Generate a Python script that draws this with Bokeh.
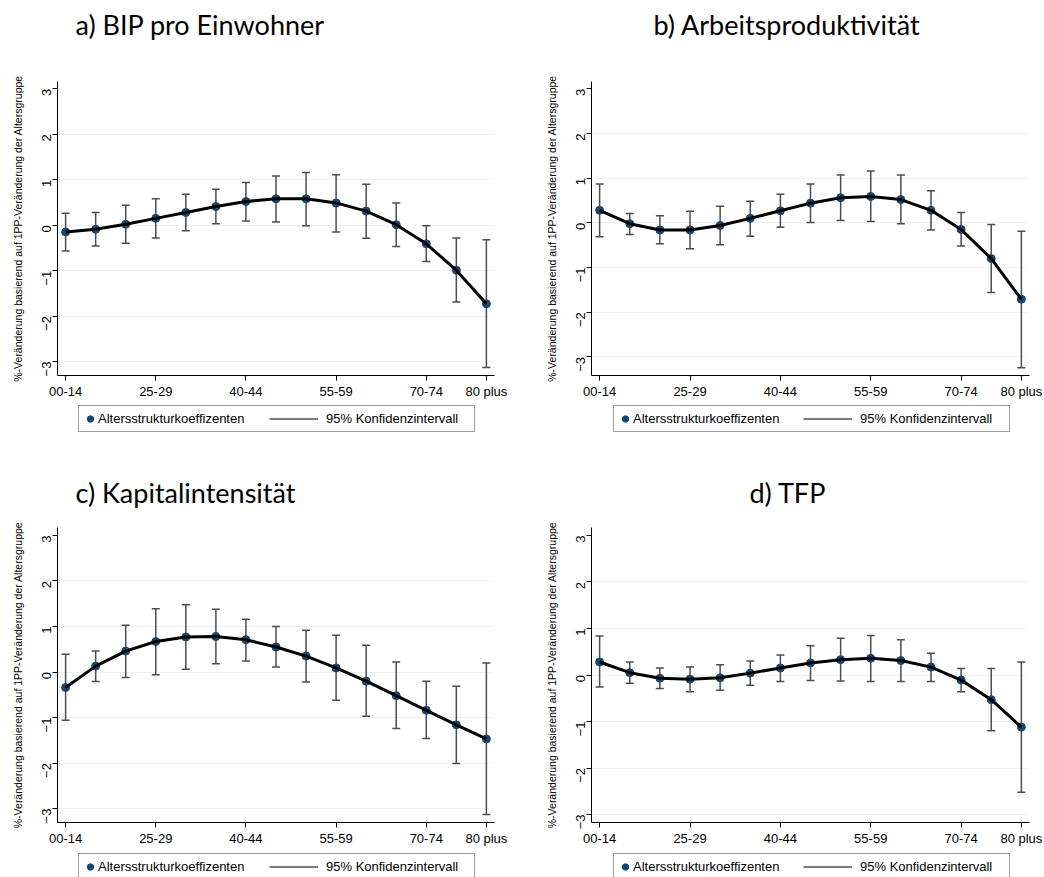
from bokeh.plotting import figure
from bokeh.models import ColumnDataSource, FixedTicker, Legend, LegendItem, Label, Range1d
from bokeh.layouts import column, row
from bokeh.embed import file_html
from bokeh.resources import INLINE
import math

categories = ["00-14", "15-19", "20-24", "25-29", "30-34", "35-39", "40-44", "45-49",
              "50-54", "55-59", "60-64", "65-69", "70-74", "75-79", "80 plus"]
tick_positions = [0, 3, 6, 9, 12, 14]
y_ticks = [-3, -2, -1, 0, 1, 2, 3]
grid_ticks = [-3, -2, -1, 0, 1, 2]

titles = ["a) BIP pro Einwohner", "b) Arbeitsproduktivität", "c) Kapitalintensität", "d) TFP"]
y_label = "%-Veränderung basierend auf 1PP-Veränderung der Altersgruppe"
legend_coef = "Altersstrukturkoeffizenten"
legend_ci = "95% Konfidenzintervall"

a_coef = [-0.15, -0.09, 0.02, 0.15, 0.28, 0.41, 0.52, 0.58, 0.58, 0.49, 0.31, 0.01, -0.41, -0.99, -1.73]
a_lo = [-0.57, -0.46, -0.40, -0.28, -0.12, 0.03, 0.09, 0.07, -0.01, -0.15, -0.29, -0.47, -0.80, -1.69, -3.13]
a_hi = [0.26, 0.28, 0.44, 0.58, 0.68, 0.79, 0.94, 1.08, 1.16, 1.11, 0.90, 0.49, -0.01, -0.28, -0.32]

b_coef = [0.28, -0.02, -0.16, -0.16, -0.06, 0.10, 0.27, 0.44, 0.56, 0.59, 0.52, 0.28, -0.15, -0.80, -1.71]
b_lo = [-0.31, -0.26, -0.47, -0.58, -0.49, -0.30, -0.10, 0.01, 0.05, 0.03, -0.02, -0.16, -0.52, -1.56, -3.24]
b_hi = [0.87, 0.21, 0.16, 0.26, 0.37, 0.48, 0.64, 0.87, 1.07, 1.16, 1.07, 0.72, 0.23, -0.04, -0.19]

c_coef = [-0.34, 0.13, 0.46, 0.67, 0.77, 0.78, 0.71, 0.55, 0.35, 0.09, -0.20, -0.52, -0.84, -1.16, -1.47]
c_lo = [-1.06, -0.21, -0.12, -0.06, 0.06, 0.18, 0.24, 0.11, -0.22, -0.62, -0.97, -1.24, -1.46, -2.01, -3.13]
c_hi = [0.39, 0.46, 1.03, 1.39, 1.48, 1.38, 1.16, 1.00, 0.92, 0.81, 0.59, 0.22, -0.20, -0.31, 0.20]

d_coef = [0.28, 0.05, -0.07, -0.09, -0.06, 0.04, 0.15, 0.26, 0.33, 0.36, 0.31, 0.17, -0.11, -0.53, -1.12]
d_lo = [-0.26, -0.18, -0.29, -0.36, -0.33, -0.22, -0.14, -0.12, -0.13, -0.14, -0.14, -0.14, -0.36, -1.20, -2.52]
d_hi = [0.84, 0.28, 0.15, 0.17, 0.22, 0.30, 0.43, 0.63, 0.79, 0.85, 0.76, 0.47, 0.14, 0.14, 0.28]

NAVY = "#1a476f"
CI_COLOR = "#4d4d4d"
GRID = "#eaf2f3"
FONT = "Liberation Sans"
TOP_PAD = 10


def blank_fig(width, height):
    f = figure(width=width, height=height, x_range=Range1d(0, 1), y_range=Range1d(0, 1),
               x_axis_type=None, y_axis_type=None, output_backend="svg",
               toolbar_location=None, min_border=0)
    f.outline_line_color = None
    f.background_fill_color = "white"
    f.border_fill_color = "white"
    return f


def styled_renderers(p, src, visible=True):
    r_ci = p.segment(x0="x", y0="lo", x1="x", y1="hi", source=src,
                     line_color=CI_COLOR, line_width=1.5, visible=visible)
    p.scatter(x="x", y="lo", source=src, marker="dash", size=8,
              line_color=CI_COLOR, line_width=1.5, visible=visible)
    p.scatter(x="x", y="hi", source=src, marker="dash", size=8,
              line_color=CI_COLOR, line_width=1.5, visible=visible)
    r_pts = p.scatter(x="x", y="coef", source=src, size=8,
                      fill_color=NAVY, line_color=NAVY, visible=visible)
    p.line(x="x", y="coef", source=src, line_color="black", line_width=3, visible=visible)
    return r_ci, r_pts


def make_panel(title, coef, lo, hi, y_range, width, border_right, title_h, title_x, title_up,
               frame_h, legend_h, legend_x, legend_y):
    src = ColumnDataSource(dict(x=list(range(len(categories))), cat=categories,
                                coef=coef, lo=lo, hi=hi))
    x_range = Range1d(-0.27, len(categories) - 1 + 0.27)

    # title
    tf = blank_fig(width, title_h)
    tf.add_layout(Label(x=title_x, y=title_up, x_units="screen", y_units="screen",
                        text=title, text_font="Lato", text_font_size="27px",
                        text_color="black", text_baseline="alphabetic"))

    # plot
    p = figure(width=width, height=TOP_PAD + frame_h + 24, x_range=x_range,
               y_range=Range1d(*y_range),
               output_backend="svg", toolbar_location=None,
               min_border_left=57, min_border_right=border_right,
               min_border_top=TOP_PAD, min_border_bottom=24)
    p.outline_line_color = None
    p.background_fill_color = "white"
    p.border_fill_color = "white"
    p.xgrid.grid_line_color = None
    p.ygrid.grid_line_color = GRID
    p.ygrid.grid_line_width = 1

    p.xaxis.ticker = FixedTicker(ticks=tick_positions)
    p.xaxis.major_label_overrides = {i: categories[i] for i in tick_positions}
    p.yaxis.ticker = FixedTicker(ticks=y_ticks)
    p.ygrid.ticker = FixedTicker(ticks=grid_ticks)
    p.yaxis.major_label_orientation = math.pi / 2
    for ax in (p.xaxis[0], p.yaxis[0]):
        ax.axis_line_color = "black"
        ax.axis_line_width = 1
        ax.major_tick_line_color = "black"
        ax.major_tick_out = 5
        ax.major_tick_in = 0
        ax.minor_tick_line_color = None
        ax.major_label_text_font = FONT
        ax.major_label_text_font_size = "13px"
        ax.major_label_text_color = "black"
    p.xaxis.major_label_standoff = 3
    p.yaxis.major_label_standoff = 6
    p.yaxis.axis_label = y_label
    p.yaxis.axis_label_text_font = FONT
    p.yaxis.axis_label_text_font_size = "10.5px"
    p.yaxis.axis_label_text_font_style = "normal"
    p.yaxis.axis_label_text_color = "black"
    p.yaxis.axis_label_standoff = 11
    styled_renderers(p, src)

    # legend
    lf = blank_fig(width, legend_h)
    lf.x_range = x_range
    lf.y_range = Range1d(*y_range)
    r_ci, r_pts = styled_renderers(lf, src, visible=False)
    common = dict(glyph_height=19, label_height=19, padding=3, orientation="vertical",
                  margin=0, label_text_font=FONT, label_text_font_size="13px",
                  label_text_color="black", spacing=0)
    leg_a = Legend(items=[LegendItem(label=legend_coef, renderers=[r_pts])],
                   location=(legend_x, legend_y),
                   glyph_width=16, label_standoff=0,
                   label_width=373, border_line_color="#404040", border_line_width=1,
                   background_fill_color="white", background_fill_alpha=1.0, **common)
    leg_b = Legend(items=[LegendItem(label=legend_ci, renderers=[r_ci])],
                   location=(212, legend_y + 4),
                   glyph_width=49, label_standoff=8,
                   border_line_color=None, background_fill_alpha=0.0, **common)
    lf.add_layout(leg_a)
    lf.add_layout(leg_b)
    return column(tf, p, lf, spacing=0)


qa = make_panel(titles[0], a_coef, a_lo, a_hi, (-3.306, 3.16), 534, 40, 71, 18, 47, 296, 54, 21, 23)
qb = make_panel(titles[1], b_coef, b_lo, b_hi, (-3.416, 3.162), 510, 15, 71, 62, 47, 296, 54, 22, 23)
qc = make_panel(titles[2], c_coef, c_lo, c_hi, (-3.305, 3.175), 534, 40, 62, 18, 25, 297, 29, 21, -3)
qd = make_panel(titles[3], d_coef, d_lo, d_hi, (-3.171, 3.171), 510, 15, 62, 158, 25, 297, 29, 22, -3)

layout = column(row(qa, qb, spacing=0), row(qc, qd, spacing=0), spacing=0)
open("out.html", "w").write(file_html(layout, INLINE))
